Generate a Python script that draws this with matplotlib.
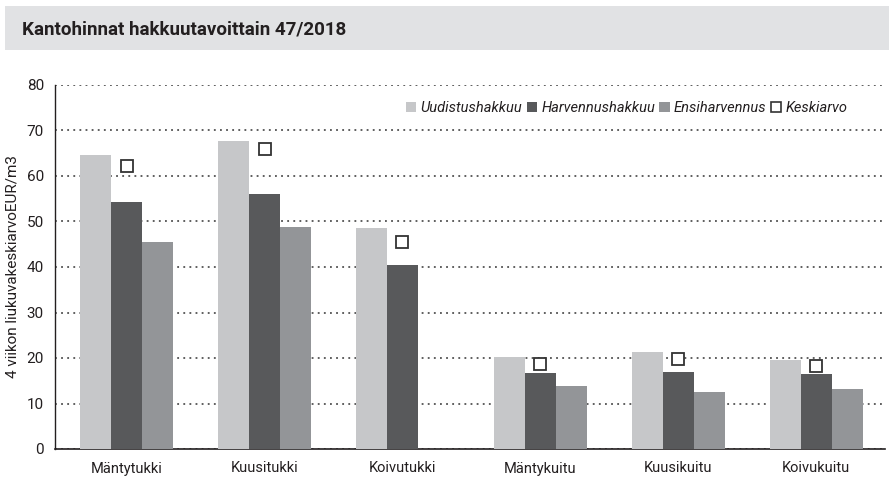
import matplotlib
matplotlib.use("Agg")
import matplotlib.pyplot as plt
import numpy as np
from matplotlib.patches import Rectangle, Patch
from matplotlib.lines import Line2D

plt.rcParams['font.family'] = ['Roboto', 'DejaVu Sans']

categories = ["Mäntytukki", "Kuusitukki", "Koivutukki", "Mäntykuitu", "Kuusikuitu", "Koivukuitu"]
series_names = ["Uudistushakkuu", "Harvennushakkuu", "Ensiharvennus"]
uudistus = [64.6, 67.7, 48.5, 20.2, 21.3, 19.6]
harvennus = [54.2, 56.0, 40.4, 16.7, 16.9, 16.5]
ensiharvennus = [45.6, 48.7, 0.0, 13.8, 12.5, 13.2]
keskiarvo = [62.3, 66.0, 45.6, 18.6, 19.8, 18.2]
yticks = [0, 10, 20, 30, 40, 50, 60, 70, 80]

title = "Kantohinnat hakkuutavoittain 47/2018"
ylabel = "4 viikon liukuvakeskiarvoEUR/m3"

colors = ["#c6c7c9", "#58595b", "#939598"]

fig = plt.figure(figsize=(8.89, 4.79), dpi=100)
# title band
fig.patches.append(Rectangle((5/889, 1-50/479), 884/889, 44/479, transform=fig.transFigure,
                             facecolor="#e1e2e4", edgecolor="none", zorder=0))
fig.text(22/889, 1-30/479, title, fontsize=13.5, fontweight="bold", color="#231f20",
         va="center", ha="left")

ax = fig.add_axes([55/889, 1-449/479, 830/889, 364/479])
x = np.arange(len(categories))
w = 0.225
for i, (vals, c) in enumerate(zip([uudistus, harvennus, ensiharvennus], colors)):
    ax.bar(x + (i-1)*w, vals, width=w, color=c, edgecolor="none", zorder=3)
ax.plot(x, keskiarvo, linestyle="none", marker="s", markersize=8, markerfacecolor="white",
        markeredgecolor="#333333", markeredgewidth=1.3, zorder=4)

ax.set_xlim(-0.52, 5.5)
ax.set_ylim(0, 80)
ax.set_yticks(yticks)
ax.set_yticklabels([str(t) for t in yticks], fontsize=11, color="#231f20")
ax.set_xticks(x)
ax.set_xticklabels(categories, fontsize=10.5, color="#231f20")
ax.tick_params(axis="both", length=0)
ax.tick_params(axis="y", pad=8)
ax.tick_params(axis="x", pad=9)
ax.yaxis.grid(True, linestyle=(0, (1.2, 2.8)), color="#333333", linewidth=1.1, zorder=0)
ax.set_axisbelow(True)
for s in ["top", "right"]:
    ax.spines[s].set_visible(False)
ax.spines["left"].set_color("#231f20")
ax.spines["bottom"].set_color("#231f20")
ax.spines["left"].set_linewidth(1.0)
ax.spines["bottom"].set_linewidth(1.2)
ax.set_ylabel(ylabel, fontsize=11, color="#231f20", labelpad=5)

handles = [Patch(facecolor=c, edgecolor="none") for c in colors]
handles.append(Line2D([], [], linestyle="none", marker="s", markersize=7.5,
                      markerfacecolor="white", markeredgecolor="#333333", markeredgewidth=1.2))
leg = ax.legend(handles, series_names + ["Keskiarvo"], ncol=4, frameon=False,
                loc="center right", bbox_to_anchor=(0.962, 75/80),
                prop={"style": "italic", "size": 10.5}, handlelength=0.7, handleheight=0.7,
                handletextpad=0.3, columnspacing=0.3, borderaxespad=0)
for t in leg.get_texts():
    t.set_color("#231f20")

fig.savefig("out.png", dpi=100)
